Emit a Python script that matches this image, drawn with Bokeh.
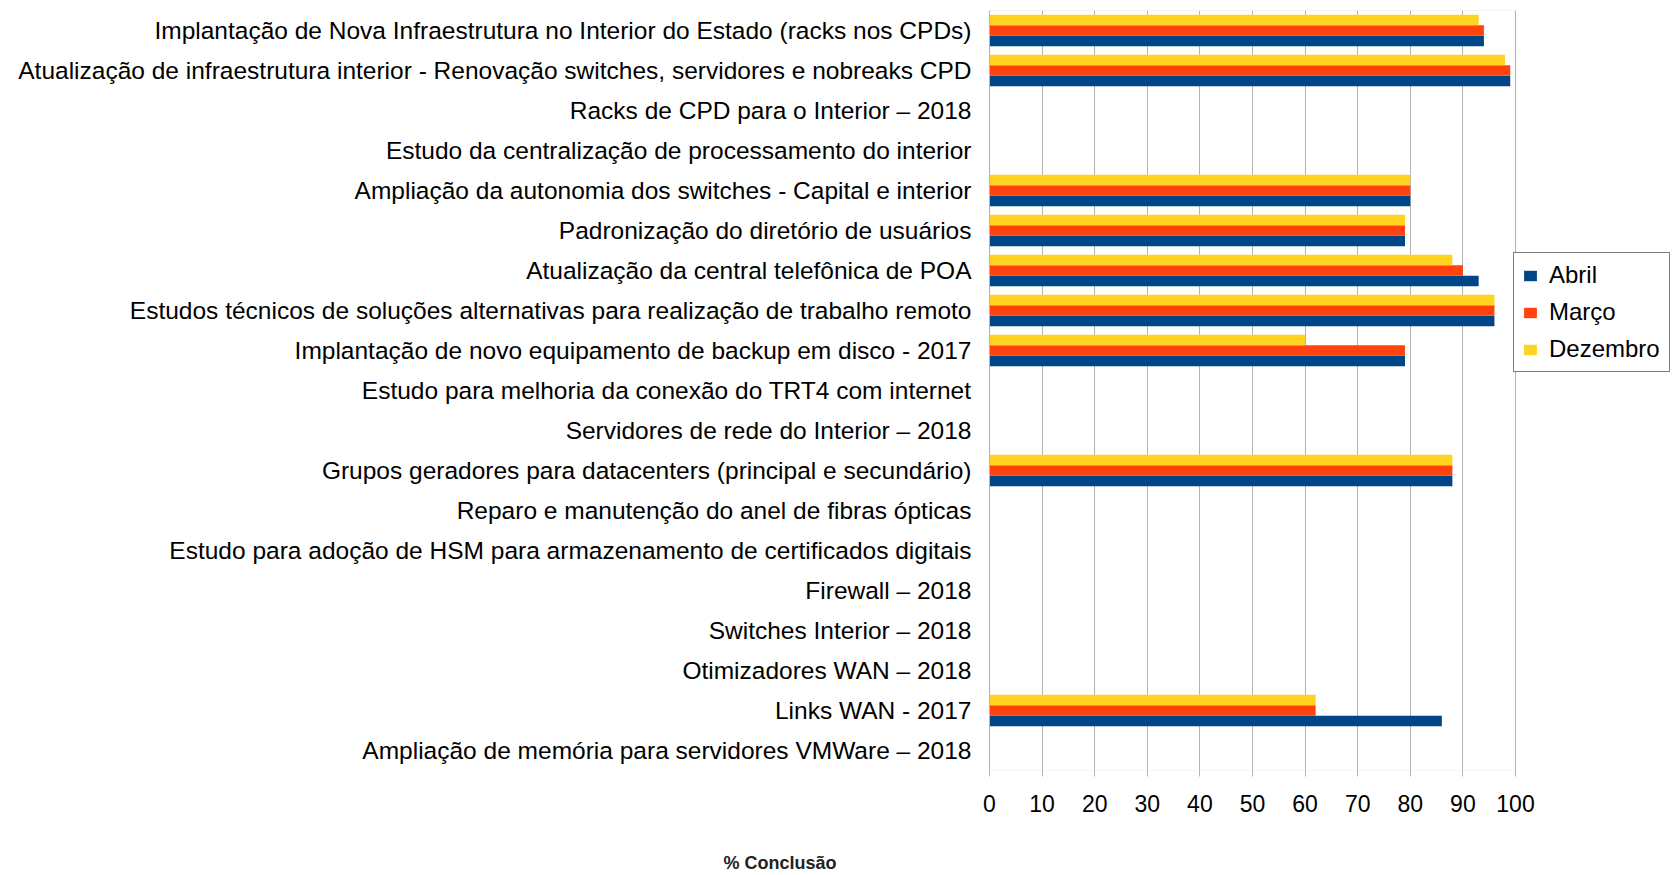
from bokeh.plotting import figure
from bokeh.layouts import column
from bokeh.models import FactorRange, Range1d, FixedTicker, Legend, LegendItem, Title, BoxAnnotation
from bokeh.transform import dodge
from bokeh.embed import file_html
from bokeh.resources import INLINE

categories = [
    "Implantação de Nova Infraestrutura no Interior do Estado (racks nos CPDs)",
    "Atualização de infraestrutura interior - Renovação switches, servidores e nobreaks CPD",
    "Racks de CPD para o Interior – 2018",
    "Estudo da centralização de processamento do interior",
    "Ampliação da autonomia dos switches - Capital e interior",
    "Padronização do diretório de usuários",
    "Atualização da central telefônica de POA",
    "Estudos técnicos de soluções alternativas para realização de trabalho remoto",
    "Implantação de novo equipamento de backup em disco - 2017",
    "Estudo para melhoria da conexão do TRT4 com internet",
    "Servidores de rede do Interior – 2018",
    "Grupos geradores para datacenters (principal e secundário)",
    "Reparo e manutenção do anel de fibras ópticas",
    "Estudo para adoção de HSM para armazenamento de certificados digitais",
    "Firewall – 2018",
    "Switches Interior – 2018",
    "Otimizadores WAN – 2018",
    "Links WAN - 2017",
    "Ampliação de memória para servidores VMWare – 2018",
]
abril =    [94, 99, 0, 0, 80, 79, 93, 96, 79, 0, 0, 88, 0, 0, 0, 0, 0, 86, 0]
marco =    [94, 99, 0, 0, 80, 79, 90, 96, 79, 0, 0, 88, 0, 0, 0, 0, 0, 62, 0]
dezembro = [93, 98, 0, 0, 80, 79, 88, 96, 60, 0, 0, 88, 0, 0, 0, 0, 0, 62, 0]
series_names = ["Abril", "Março", "Dezembro"]
x_ticks = [0, 10, 20, 30, 40, 50, 60, 70, 80, 90, 100]
x_title = "% Conclusão"

FONT = "Liberation Sans"
GREY = "#b3b3b3"
colors = {"Abril": "#004586", "Março": "#ff420e", "Dezembro": "#ffd320"}

data = dict(cat=categories, abril=abril, marco=marco, dezembro=dezembro)

W = 1674
# the frame extends past 100 to leave room for the legend on the right
p = figure(
    width=W, height=850,
    y_range=FactorRange(factors=list(reversed(categories)), range_padding=0),
    x_range=Range1d(0, 129.85),
    output_backend="svg", toolbar_location=None,
    min_border_left=989, min_border_right=2, min_border_top=10, min_border_bottom=80,
)

bw = 0.262
r_ab = p.hbar(y=dodge("cat", -bw, range=p.y_range), right="abril", left=0, height=bw,
              source=data, fill_color=colors["Abril"], line_color=None)
r_ma = p.hbar(y=dodge("cat", 0, range=p.y_range), right="marco", left=0, height=bw,
              source=data, fill_color=colors["Março"], line_color=None)
r_de = p.hbar(y=dodge("cat", bw, range=p.y_range), right="dezembro", left=0, height=bw,
              source=data, fill_color=colors["Dezembro"], line_color=None)

p.outline_line_color = None
p.ygrid.visible = False
p.xgrid.grid_line_color = GREY
p.xgrid.grid_line_width = 1
p.xaxis.ticker = FixedTicker(ticks=x_ticks)

# plot-area border spanning 0..100 only
p.add_layout(BoxAnnotation(left=x_ticks[0], right=x_ticks[-1], fill_alpha=0,
                           line_color=GREY, line_width=1.2, level="underlay"))

for ax in (p.xaxis[0], p.yaxis[0]):
    ax.major_tick_line_color = GREY
    ax.minor_tick_line_color = None
    ax.major_label_text_font = FONT
    ax.major_label_text_color = "#000000"

p.xaxis.axis_line_color = None
p.yaxis.axis_line_color = GREY
p.yaxis.major_label_text_font_size = "24.5px"
p.xaxis.major_label_text_font_size = "23px"
p.xaxis.major_tick_out = 6
p.xaxis.major_tick_in = 0
p.xaxis.major_label_standoff = 18
p.yaxis.major_tick_out = 0
p.yaxis.major_tick_in = 0
p.yaxis.major_label_standoff = 18

legend = Legend(
    items=[LegendItem(label=series_names[0], renderers=[r_ab]),
           LegendItem(label=series_names[1], renderers=[r_ma]),
           LegendItem(label=series_names[2], renderers=[r_de])],
    location=(524, 398),
    border_line_color="#000000", border_line_width=1.5,
    background_fill_color="#ffffff", background_fill_alpha=1,
    label_text_font=FONT, label_text_font_size="24px", label_text_color="#000000",
    glyph_width=16, glyph_height=13, label_standoff=11, label_width=112,
    label_height=26, spacing=9, padding=8, margin=0,
)
p.add_layout(legend, "center")

# strip below the chart holding the axis title (its frame lines up with p's frame)
t = figure(width=W, height=24, x_range=Range1d(0, 1), y_range=Range1d(0, 1),
           output_backend="svg", toolbar_location=None,
           x_axis_location=None, y_axis_location=None,
           min_border_left=989, min_border_right=2, min_border_top=0, min_border_bottom=0)
t.grid.visible = False
t.outline_line_color = None
t.add_layout(Title(text=x_title, align="left", offset=-266, standoff=0,
                   text_font=FONT, text_font_size="18px", text_font_style="bold",
                   text_color="#222222"), "above")

open("out.html", "w").write(file_html(column(p, t, spacing=0), INLINE))
